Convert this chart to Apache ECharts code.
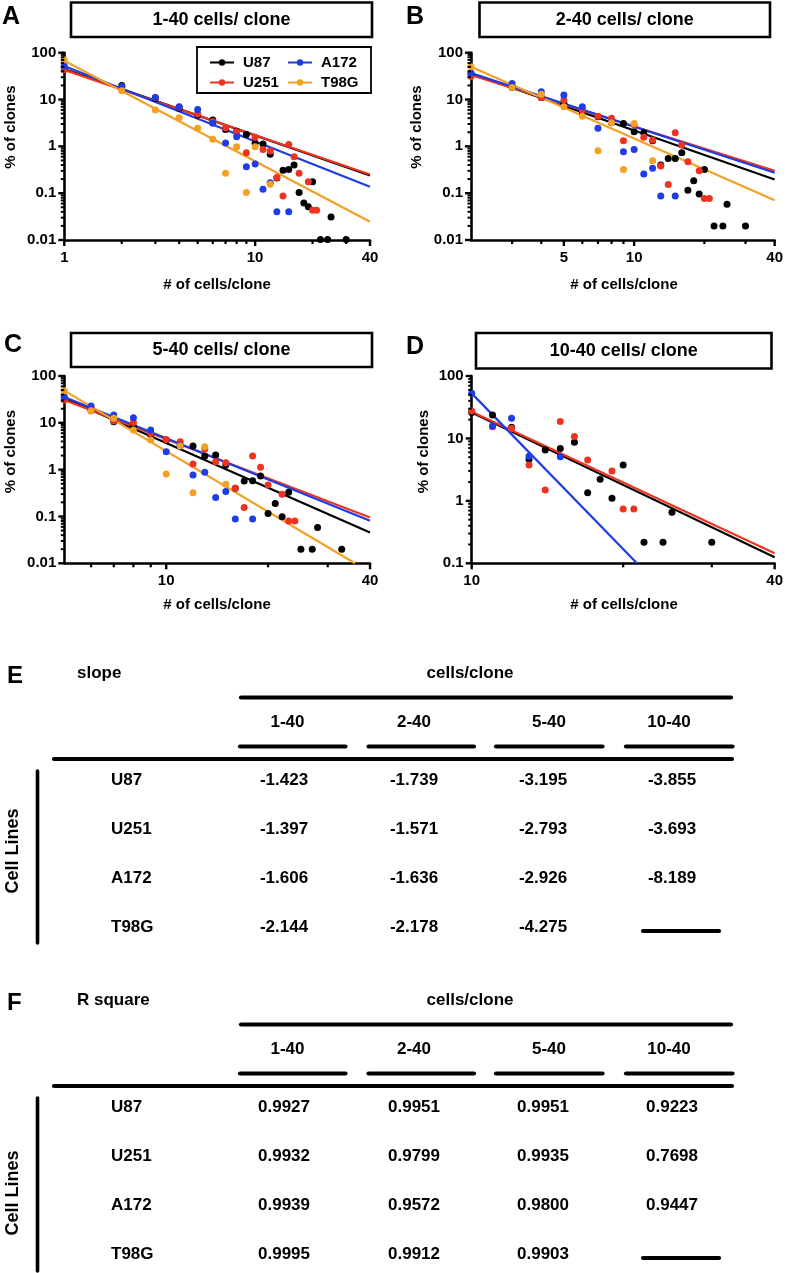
<!DOCTYPE html>
<html>
<head>
<meta charset="utf-8">
<script src="https://cdn.jsdelivr.net/npm/echarts@6/dist/echarts.min.js"></script>
<style>
html,body{margin:0;padding:0;background:#fff;}
#chart{width:786px;height:1273px;}
</style>
</head>
<body>
<div id="chart"></div>
<script>
// ---------------- DATA ----------------
const cellLines = ['U87', 'U251', 'A172', 'T98G'];
const lineColors = ['#000000', '#EE3420', '#1E3DE4', '#F4A025'];
const panelLetters = ['A', 'B', 'C', 'D'];
const panelTitles = ['1-40 cells/ clone', '2-40 cells/ clone', '5-40 cells/ clone', '10-40 cells/ clone'];
const xRanges = [[1, 40], [2, 40], [5, 40], [10, 40]];
const yRanges = [[0.01, 100], [0.01, 100], [0.01, 100], [0.1, 100]];
const xLabelTicks = [[1, 10, 40], [5, 10, 40], [10, 40], [10, 40]];
const xMinorTicks = [[2, 3, 4, 5, 6, 7, 8, 9, 20, 30], [3, 4, 6, 7, 8, 9, 20, 30], [6, 7, 8, 9, 20, 30], [20, 30]];
const yLabelTicks = [[0.01, 0.1, 1, 10, 100], [0.01, 0.1, 1, 10, 100], [0.01, 0.1, 1, 10, 100], [0.1, 1, 10, 100]];
const xAxisName = '# of cells/clone';
const yAxisName = '% of clones';

// Panel A: 1-40 cells/clone
const A_U87 = [[1,45],[2,20],[3,10.5],[4,6.5],[5,4.65],[6,3.65],[7,2.3],[8,2.1],[9,1.8],[10,1.16],[11,1.12],[12,0.68],[13,0.21],[14,0.31],[15,0.32],[16,0.4],[17,0.104],[18,0.062],[19,0.051],[20,0.175],[22,0.0103],[24,0.0103],[25,0.031],[30,0.0103]];
const A_U251 = [[1,43],[2,18.5],[3,11],[4,6.8],[5,4.9],[6,3.4],[7,2.5],[8,2.05],[9,0.73],[10,1.56],[11,0.86],[12,0.8],[13,0.217],[14,0.087],[15,1.1],[16,0.6],[17,0.265],[19,0.175],[20,0.043],[21,0.043]];
const A_A172 = [[1,52],[2,19],[3,11],[4,7.0],[5,6.1],[6,3.1],[7,1.18],[8,1.6],[9,0.367],[10,0.418],[11,0.122],[12,0.167],[13,0.04],[15,0.04]];
const A_T98G = [[1,70],[2,15.4],[3,5.97],[4,4.08],[5,2.43],[6,1.41],[7,0.265],[8,0.98],[9,0.104],[10,0.98],[12,0.156]];
// Panel B: 2-40 cells/clone
const B_U87 = [[2,35],[3,18],[4,11.1],[5,8.3],[6,5.5],[7,4.3],[8,3.2],[9,3.09],[10,2.05],[11,1.95],[12,1.32],[13,0.4],[14,0.55],[15,0.55],[16,0.73],[17,0.116],[18,0.184],[19,0.096],[20,0.32],[22,0.02],[24,0.02],[25,0.058],[30,0.02]];
const B_U251 = [[2,31],[3,19],[4,11],[5,9.75],[6,6.0],[7,4.4],[8,3.96],[9,1.32],[10,2.9],[11,1.56],[12,1.36],[13,0.38],[14,0.154],[15,1.95],[16,1.07],[17,0.47],[19,0.3],[20,0.077],[21,0.077]];
const B_A172 = [[2,37],[3,22],[4,14.7],[5,12.5],[6,7.0],[7,2.43],[8,3.3],[9,0.77],[10,0.86],[11,0.256],[12,0.34],[13,0.087],[15,0.087]];
const B_T98G = [[2,50],[3,18],[4,13],[5,7.0],[6,4.4],[7,0.81],[8,3.2],[9,0.32],[10,3.09],[12,0.49]];
// Panel C: 5-40 cells/clone
const C_U87 = [[5,34],[6,18],[7,10.6],[8,8.3],[9,5.6],[10,4.3],[11,3.2],[12,3.19],[13,1.95],[14,2.05],[15,1.25],[16,0.4],[17,0.57],[18,0.58],[19,0.73],[20,0.116],[21,0.19],[22,0.099],[23,0.33],[25,0.02],[27,0.02],[28,0.058],[33,0.02]];
const C_U251 = [[5,30.7],[6,18.2],[7,11],[8,10.1],[9,6.0],[10,4.4],[11,3.95],[12,1.32],[13,2.76],[14,1.48],[15,1.41],[16,0.4],[17,0.156],[18,1.95],[19,1.12],[20,0.47],[22,0.3],[23,0.08],[24,0.08]];
const C_A172 = [[5,36.1],[6,22.9],[7,14.7],[8,12.9],[9,7.0],[10,2.42],[11,3.3],[12,0.77],[13,0.875],[14,0.255],[15,0.34],[16,0.088],[18,0.088]];
const C_T98G = [[5,48.7],[6,18.2],[7,12.5],[8,7.0],[9,4.28],[10,0.81],[11,3.2],[12,0.32],[13,3.09],[15,0.49]];
// Panel D: 10-40 cells/clone
const D_U87 = [[10,26],[11,23.7],[12,15.1],[13,4.63],[14,6.53],[15,6.9],[16,8.67],[17,1.35],[18,2.21],[19,1.1],[20,3.76],[22,0.217],[24,0.217],[25,0.655],[30,0.217]];
const D_U251 = [[10,27.5],[11,15.4],[12,14.5],[13,3.76],[14,1.49],[15,18.6],[16,10.7],[17,4.52],[19,3.0],[20,0.74],[21,0.74]];
const D_A172 = [[10,52.7],[11,15.8],[12,21],[13,5.2],[15,5.1]];

// Fitted power-law lines (end points), order = cellLines
const fitA = [[[1,45],[40,0.24]], [[1,43],[40,0.25]], [[1,52],[40,0.137]], [[1,67],[40,0.0245]]];
const fitB = [[[2,35.9],[40,0.196]], [[2,33.3],[40,0.30]], [[2,36.7],[40,0.273]], [[2,50],[40,0.071]]];
const fitC = [[[5,33.3],[40,0.0457]], [[5,30.7],[40,0.095]], [[5,35.6],[40,0.081]], [[5,48.7],[36.1,0.01]]];
const fitD = [[[10,25.9],[40,0.125]], [[10,26.8],[40,0.145]], [[10,52.7],[21.3,0.1]], null];

// Tables E and F
const tableRanges = ['1-40', '2-40', '5-40', '10-40'];
const slopeTable = [
  ['-1.423', '-1.739', '-3.195', '-3.855'],
  ['-1.397', '-1.571', '-2.793', '-3.693'],
  ['-1.606', '-1.636', '-2.926', '-8.189'],
  ['-2.144', '-2.178', '-4.275', null]
];
const rsqTable = [
  ['0.9927', '0.9951', '0.9951', '0.9223'],
  ['0.9932', '0.9799', '0.9935', '0.7698'],
  ['0.9939', '0.9572', '0.9800', '0.9447'],
  ['0.9995', '0.9912', '0.9903', null]
];

// ---------------- LAYOUT ----------------
const FONT = '"Liberation Sans", Arial, Helvetica, sans-serif';
const grids = [
  {left: 64.3, top: 52.7, width: 305.7, height: 187.3},
  {left: 471, top: 52.7, width: 305.7, height: 187.3},
  {left: 64.3, top: 376, width: 305.7, height: 187.3},
  {left: 471.7, top: 376, width: 305, height: 187.3}
];
const titleBoxes = [
  {x: 71, y: 2.5, w: 301, h: 34.5},
  {x: 479.5, y: 2.5, w: 290.5, h: 34.5},
  {x: 71, y: 333, w: 301, h: 34},
  {x: 476, y: 333, w: 295.5, h: 35.5}
];
const letterPos = [[2, 17], [406, 17], [4, 345], [406, 347.5]];
const yNamePos = [[11, 127], [417, 127], [11, 451.7], [424, 451.7]];
const xNamePos = [[217, 285], [624, 285], [217, 605], [624, 605]];
const MAJOR_TICK = 6, MINOR_TICK = 4;
const TICK_COLOR = '#000000';

const panelData = [
  [A_U87, A_U251, A_A172, A_T98G],
  [B_U87, B_U251, B_A172, B_T98G],
  [C_U87, C_U251, C_A172, C_T98G],
  [D_U87, D_U251, D_A172, null]
];
const panelFits = [fitA, fitB, fitC, fitD];

function minorLogTicks(lo, hi) {
  const out = [];
  for (let d = lo; d < hi * 0.999; d *= 10) {
    for (let k = 2; k <= 9; k++) {
      const v = +(d * k).toPrecision(3);
      if (v < hi) out.push(v);
    }
  }
  return out;
}

const AXIS_COLOR = '#000';
const xAxis = [], yAxis = [], series = [], grid = [];
grids.forEach((g, gi) => {
  grid.push({left: g.left, top: g.top, width: g.width, height: g.height});
  const [xmin, xmax] = xRanges[gi];
  const [ymin, ymax] = yRanges[gi];
  xAxis.push({
    type: 'log', logBase: 10, gridIndex: gi, min: xmin, max: xmax, position: 'bottom',
    axisLine: {show: true, lineStyle: {color: AXIS_COLOR, width: 2.6}},
    axisTick: {show: false},
    axisLabel: {show: true, customValues: xLabelTicks[gi], margin: 10, color: '#000', fontSize: 15, fontWeight: 'bold', fontFamily: FONT},
    splitLine: {show: false}
  });
  yAxis.push({
    type: 'log', logBase: 10, gridIndex: gi, min: ymin, max: ymax, position: 'left',
    axisLine: {show: true, lineStyle: {color: AXIS_COLOR, width: 2.6}},
    axisTick: {show: false},
    axisLabel: {show: true, customValues: yLabelTicks[gi], margin: 8, color: '#000', fontSize: 15, fontWeight: 'bold', fontFamily: FONT},
    splitLine: {show: false}
  });
  // tick marks placed through the axes' own log scales
  const tickItems = [];
  xLabelTicks[gi].forEach(v => tickItems.push([v, ymin, 0, MAJOR_TICK, 2.4]));
  xMinorTicks[gi].forEach(v => tickItems.push([v, ymin, 0, MINOR_TICK, 2.2]));
  yLabelTicks[gi].forEach(v => tickItems.push([xmin, v, -MAJOR_TICK, 0, 2.4]));
  minorLogTicks(ymin, ymax).forEach(v => tickItems.push([xmin, v, -3.5, 0, 2]));
  series.push({
    type: 'custom', xAxisIndex: gi, yAxisIndex: gi, clip: false, silent: true, z: 5,
    data: tickItems,
    renderItem: function (params, api) {
      const p = api.coord([api.value(0), api.value(1)]);
      return {
        type: 'line',
        shape: {x1: p[0], y1: p[1], x2: p[0] + api.value(2), y2: p[1] + api.value(3)},
        style: {stroke: TICK_COLOR, lineWidth: api.value(4)}
      };
    }
  });
});

// fit lines first (legend takes its icon from the first series of a name)
panelFits.forEach((fits, gi) => {
  fits.forEach((fit, ci) => {
    if (!fit) return;
    series.push({
      type: 'line', name: cellLines[ci], xAxisIndex: gi, yAxisIndex: gi,
      data: fit, showSymbol: false, symbol: 'circle', symbolSize: 7,
      lineStyle: {color: lineColors[ci], width: 2.2},
      itemStyle: {color: lineColors[ci]},
      z: 2, silent: true
    });
  });
});
panelData.forEach((sets, gi) => {
  sets.forEach((pts, ci) => {
    if (!pts) return;
    series.push({
      type: 'scatter', name: cellLines[ci], xAxisIndex: gi, yAxisIndex: gi,
      data: pts, symbol: 'circle', symbolSize: 7,
      itemStyle: {color: lineColors[ci], opacity: 1},
      z: 3, silent: true
    });
  });
});

// ---------------- GRAPHIC (titles, labels, tables) ----------------
const graphic = [];
function txt(x, y, text, size, align, vAlign, rot) {
  const el = {type: 'text', x: x, y: y, silent: true,
    style: {text: text, fill: '#000', font: 'bold ' + size + 'px ' + FONT, align: align || 'center', verticalAlign: vAlign || 'middle'}};
  if (rot) el.rotation = rot;
  graphic.push(el);
}
function hline(x1, x2, y, w) {
  graphic.push({type: 'line', silent: true, shape: {x1: x1, y1: y, x2: x2, y2: y},
    style: {stroke: '#000', lineWidth: w, lineCap: 'round'}});
}
function vline(x, y1, y2, w) {
  graphic.push({type: 'line', silent: true, shape: {x1: x, y1: y1, x2: x, y2: y2},
    style: {stroke: '#000', lineWidth: w, lineCap: 'round'}});
}

titleBoxes.forEach((b, i) => {
  graphic.push({type: 'rect', silent: true, shape: {x: b.x, y: b.y, width: b.w, height: b.h},
    style: {fill: '#fff', stroke: '#000', lineWidth: 2.6}});
  txt(b.x + b.w / 2, b.y + b.h / 2 + 0.5, panelTitles[i], 18);
  txt(letterPos[i][0], letterPos[i][1], panelLetters[i], 25, 'left');
  txt(yNamePos[i][0], yNamePos[i][1], yAxisName, 15, 'center', 'middle', Math.PI / 2);
  txt(xNamePos[i][0], xNamePos[i][1], xAxisName, 15);
});
// legend frame of panel A
graphic.push({type: 'rect', silent: true, shape: {x: 197, y: 47, width: 174, height: 46},
  style: {fill: '#fff', stroke: '#000', lineWidth: 1.8}, z: -1});

// tables
const tableLayouts = [
  {letter: 'E', corner: 'slope', base: 0, cellLinesY: 851},
  {letter: 'F', corner: 'R square', base: 327, cellLinesY: 1193}
];
const headerX = [287.5, 414, 549, 669];
const valueX = [284, 414, 543, 672];
const underlineX = [[239, 346.5], [367.5, 475], [495, 603.5], [625, 733.5]];
[slopeTable, rsqTable].forEach((tbl, ti) => {
  const L = tableLayouts[ti];
  const b = L.base;
  txt(7, 676 + b, L.letter, 24, 'left');
  txt(77, 673 + b, L.corner, 17, 'left');
  txt(470, 673 + b, 'cells/clone', 17);
  hline(241, 731, 697.5 + b, 4.2);
  tableRanges.forEach((r, ci) => {
    txt(headerX[ci], 722.5 + b, r, 17);
    hline(underlineX[ci][0] + 1, underlineX[ci][1] - 1, 746.5 + b, 4.2);
  });
  hline(54, 732, 759 + b, 4.2);
  vline(37.5, 771 + b, 943 + b + (ti === 1 ? 1 : 0), 3.6);
  txt(13, L.cellLinesY, 'Cell Lines', 18, 'center', 'middle', Math.PI / 2);
  cellLines.forEach((cl, ri) => {
    const y = 780.5 + b + ri * 49;
    txt(111, y, cl, 17, 'left');
    tbl[ri].forEach((v, ci) => {
      if (v === null) {
        hline(643, 719, y + 3.5, 4.2);
      } else {
        txt(valueX[ci], y, v, 17);
      }
    });
  });
});

const option = {
  backgroundColor: '#ffffff',
  animation: false,
  grid: grid,
  xAxis: xAxis,
  yAxis: yAxis,
  legend: [
    {data: ['U87', 'U251'], orient: 'vertical', left: 209, top: 55, itemWidth: 24, itemHeight: 8, itemGap: 5,
      selectedMode: false, padding: 0,
      textStyle: {color: '#000', fontSize: 15, fontWeight: 'bold', fontFamily: FONT, padding: [0, 0, 0, 4]}},
    {data: ['A172', 'T98G'], orient: 'vertical', left: 287, top: 55, itemWidth: 24, itemHeight: 8, itemGap: 5,
      selectedMode: false, padding: 0,
      textStyle: {color: '#000', fontSize: 15, fontWeight: 'bold', fontFamily: FONT, padding: [0, 0, 0, 4]}}
  ],
  graphic: graphic,
  series: series
};

const chart = echarts.init(document.getElementById('chart'), null, {renderer: 'canvas'});
chart.setOption(option);
</script>
</body>
</html>
